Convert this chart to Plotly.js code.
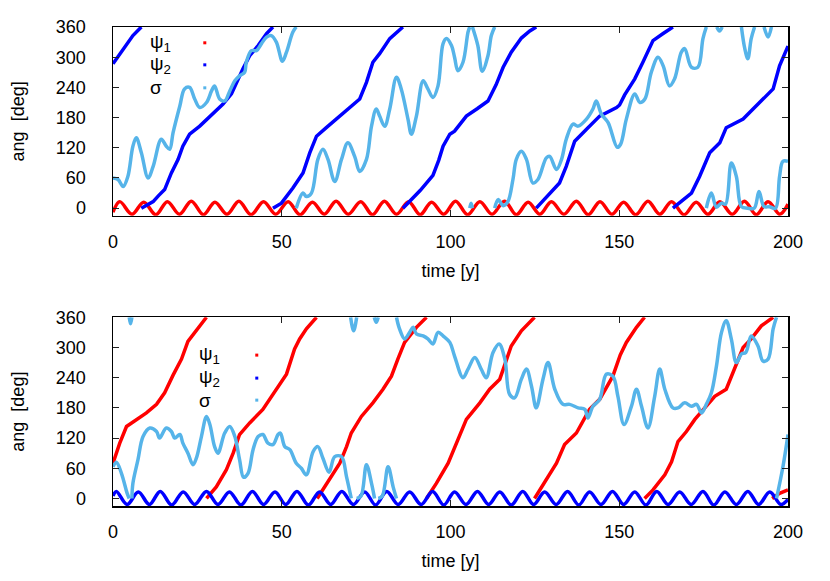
<!DOCTYPE html>
<html>
<head>
<meta charset="utf-8">
<script src="https://cdn.plot.ly/plotly-3.0.1.min.js"></script>
<style>html,body{margin:0;padding:0;background:#fff}#chart{width:830px;height:581px}</style>
</head>
<body>
<div id="chart"></div>
<script>
// ---------- TOP PANEL ----------
// psi1 (red, librating)
const topPsi1T = [0,2.0,5.6,9.1,12.7,16.1,19.7,23.2,26.8,30.2,33.8,37.3,40.9,44.6,48.2,51.9,55.4,59.1,62.6,66.1,69.7,73.4,76.9,80.4,84.0,87.6,91.0,94.4,98.0,101.5,105.1,108.7,112.3,116.0,119.5,123.0,126.5,129.9,133.6,137.3,140.8,144.3,147.8,151.3,154.9,158.5,162.0,165.5,169.2,172.8,176.3,179.8,183.5,187.1,190.6,194.1,197.6,200];
const topPsi1V = [-8,13,-12,12,-13,13,-12,14,-13,12,-12,14,-13,13,-12,13,-13,12,-12,14,-12,13,-13,14,-12,13,-13,12,-12,14,-13,13,-12,14,-13,12,-12,13,-12,14,-13,13,-12,12,-13,14,-12,13,-13,12,-12,13,-12,14,-13,13,-12,8];
// psi2 (blue, circulating; null = wrap)
const topPsi2T = [0,1,3,5.9,8.4,null,
  8.4,10,11.9,13.5,15.3,17.3,19.3,20.7,22.7,25.7,28.7,32.6,35.1,36.6,38.5,40.5,43,45.5,47.4,null,
  47.4,49.9,53.3,56.3,58.3,60.3,63.2,66.7,70.1,73.1,75.1,77,79,82,85.9,null,
  85.9,88,91,94.8,96.5,97.8,99.8,101.2,104.7,108,111.1,113.5,115.6,118,121,123.5,125.4,null,
  125.4,129,132.3,134.3,136.8,140.3,144.2,149.2,150.1,151.6,154.6,157,160,163,165.9,null,
  165.9,168.5,171.4,173.8,176.8,179.8,181.7,186.7,189.6,193.6,195.6,197.5,199.5,200];
const topPsi2V = [287,297,316,343,360,null,
  0,6,13,25,37,70,97,123,147,163,183,207,227,250,277,303,323,347,360,null,
  0,10,40,70,110,143,160,180,200,217,250,290,307,337,360,null,
  0,15,35,65,95,123,147,153,183,198,213,245,280,310,338,352,360,null,
  0,25,50,83,133,157,183,200,205,225,257,290,333,347,360,null,
  0,15,30,63,110,130,160,177,197,223,237,283,317,322];
// sigma (light blue)
const topSigT = [0,1.5,3,4.4,5.9,6.9,8.4,10.4,11.9,14.3,15.8,16.8,17.8,19.8,21.2,22.7,24.2,25.7,27.7,29.2,30.1,31.6,33.1,34.6,36.1,37.5,39,39.5,41,42.5,44,45.5,46.9,48.4,50.2,51.4,53.3,54.3,null,
  54.3,56.3,57.3,58.8,60.7,62.2,63.7,65.7,67.7,69.6,71.6,73.1,75.1,76.6,78,79,80.5,82,84,85.4,87.4,88.4,89.9,91.9,93.3,94.8,96.3,97.8,98.8,100.3,101.2,102.2,103.7,105.2,105.7,null,
  105.7,106.1,106.5,null,
  106.5,108.1,109.4,111.1,112.1,113.1,null,
  113.1,114.1,115.6,117,118.5,119.5,121,122.5,124.4,125.9,128.4,129.4,131.4,132.9,134.3,136.3,137.8,140.3,142.2,143.2,144.7,146.7,149.4,150.4,152.1,154.6,156.1,157.6,159.5,161.5,163,164.9,166.4,168.4,169.4,171.4,173.3,174.8,175.8,null,
  175.8,177.3,178.8,180.3,181.5,183.2,184.7,186.2,188,190,191.4,192.9,194.5,196.3,197.5,198.5,200,null,
  178.9,179.7,180.5,null,
  186.2,187.2,188.1,189.1,190.1,null,
  192.9,194.1,195.1];
const topSigV = [60,57,43,63,123,140,110,60,83,137,123,117,150,203,237,240,217,200,210,233,243,217,213,233,253,263,270,290,313,313,327,340,343,330,292,310,350,360,null,
  0,30,23,30,97,117,97,53,97,130,103,73,97,163,197,183,163,197,260,237,177,147,183,253,237,220,243,327,337,323,300,273,290,350,360,null,
  0,10,0,null,
  360,323,272,303,343,360,null,
  0,17,5,13,57,97,113,97,50,57,100,103,77,97,137,167,163,177,197,213,187,170,121,127,177,227,210,217,270,300,283,243,257,310,317,280,280,337,360,null,
  0,30,2,10,8,90,63,3,0,0,33,3,3,0,63,93,93,null,
  360,352,360,null,
  360,317,297,337,360,null,
  360,340,360];

// ---------- BOTTOM PANEL ----------
// psi1 (red, circulating)
const botPsi1T = [0,2,4,6.9,9.9,12.9,15.3,17.8,20.3,22.2,24.7,27.7,null,
  27.7,30.6,33.6,35.6,37.5,40.5,44.4,47.4,49.4,51.4,53.8,55.3,57.3,60.3,null,
  60.5,64.2,67.2,69.2,70.6,73.6,77,80,82.5,84.4,86.4,89.9,92.9,null,
  92.9,95.8,99.3,101.7,104.7,108.7,111.6,114.6,116.6,118,121,124.9,null,
  124.9,128.4,131.4,133.8,137.3,141.2,144.2,148.1,150.3,152.1,155.1,157.5,null,
  157.5,160,163.5,165.5,167.4,169.9,172.4,175.3,178.3,181.7,184.2,186.7,189.1,192.1,195.6,null,
  195.3,197.5,200];
const botPsi1V = [70,110,143,157,170,187,210,245,277,312,333,360,null,
  0,23,57,90,127,150,177,207,225,247,297,317,337,360,null,
  0,37,70,103,130,163,190,217,243,277,310,340,360,null,
  0,30,70,110,157,190,217,237,277,303,333,360,null,
  0,37,70,107,130,177,197,243,285,310,340,360,null,
  0,17,47,73,113,133,157,180,203,217,260,300,317,343,360,null,
  0,10,17];
// psi2 (blue, librating)
const botPsi2T = [0,1.0,4.2,7.5,10.8,14.0,17.4,20.8,24.2,27.7,31.1,34.5,37.9,41.3,44.6,48.0,51.2,54.5,57.9,61.2,64.5,67.8,71.2,74.6,77.8,81.1,84.5,87.9,91.3,94.7,98.0,101.2,104.6,108.0,111.3,114.6,118.0,121.4,124.6,127.9,131.3,134.7,138.0,141.2,144.6,148.0,151.3,154.6,157.9,161.1,164.5,167.9,171.3,174.8,178.0,181.3,184.7,188.1,191.3,194.6,197.9,200];
const botPsi2V = [5,14,-12,13,-12,14,-13,13,-12,14,-12,13,-13,14,-12,13,-12,14,-13,13,-12,14,-12,13,-13,14,-12,13,-12,14,-13,13,-12,14,-12,13,-13,14,-12,13,-12,14,-13,13,-12,14,-12,13,-13,14,-12,13,-12,14,-13,13,-12,14,-12,13,-12,-2];
// sigma (light blue)
const botSigT = [0,1,2.5,4.2,4.8,null,
  4.8,5.2,5.6,null,
  5.6,5.9,7.4,8.9,10.9,12.9,13.8,15.8,17.3,18.3,19.8,20.7,22.2,23.7,24.7,26.2,27.7,28.7,30.1,31.1,33.1,34.6,36.1,37.5,38.7,40,41.5,43,44.4,45.9,47.4,48.9,49.6,50.9,52.4,54.3,55.8,57.3,59.3,60.7,62.2,64,65.7,67.7,69.2,70.6,null,
  70.4,71.3,72.2,null,
  72.2,73.5,75.1,76.6,77.5,null,
  77.4,78,78.6,null,
  78.6,79.8,81.5,83,84,null,
  84,84.9,86.4,87.9,88.9,89.9,91.9,93.3,94.8,96.3,97.8,99.8,101.2,103.7,105.2,107.2,109.1,110.6,112.6,114.4,116.1,117.5,119,121,122.5,124,125.4,127.4,128.9,130.9,133.3,135.3,137.8,139.8,140.7,142.2,144.2,146.2,148.1,149.6,151.4,153.6,155.1,156.6,158.5,160.5,162,163.5,165.9,167.4,169.4,171.4,172.9,174.4,175.8,177.3,178.8,180.3,181.7,183.2,184.7,186.2,187.5,189.1,191.1,192.6,194.1,195.6,196.6,null,
  196.6,198.5,200];
const botSigV = [63,72,50,10,0,null,
  360,347,360,null,
  0,30,77,123,140,133,120,140,133,120,127,110,90,67,80,123,163,147,103,90,130,143,123,77,42,50,97,123,127,110,107,127,130,103,97,70,60,47,93,103,80,52,83,83,43,0,null,
  360,333,360,null,
  0,5,67,30,0,null,
  360,350,360,null,
  0,5,63,23,0,null,
  360,337,317,330,340,327,323,317,307,330,323,310,283,240,257,280,257,240,290,307,277,207,200,237,257,223,180,237,270,217,187,187,180,177,160,183,197,247,243,203,147,183,217,183,140,203,257,217,180,180,190,183,187,170,187,210,263,330,353,317,270,287,290,323,303,273,277,337,360,null,
  0,63,127];

// ---------- labels ----------
const seriesNames = ['ψ<sub>1</sub>', 'ψ<sub>2</sub>', 'σ'];
const seriesColors = ['#ff0000', '#0000ff', '#56b4e9'];
const xTicks = [0, 50, 100, 150, 200];
const yTicks = [0, 60, 120, 180, 240, 300, 360];

const FONT = 'Liberation Sans, Arial, Helvetica, sans-serif';
const FS = 18;

function tr(x, y, ci, xa, ya, smooth) {
  return {
    x: x, y: y, xaxis: xa, yaxis: ya, type: 'scatter', mode: 'lines',
    name: seriesNames[ci].replace(/<\/?sub>/g, ''),
    line: {color: seriesColors[ci], width: 3.5, shape: smooth ? 'spline' : 'linear', smoothing: 1},
    connectgaps: false, showlegend: false, hoverinfo: 'skip'
  };
}

const data = [
  tr(topPsi1T, topPsi1V, 0, 'x', 'y', true),
  tr(topPsi2T, topPsi2V, 1, 'x', 'y', false),
  tr(topSigT, topSigV, 2, 'x', 'y', true),
  tr(botPsi1T, botPsi1V, 0, 'x2', 'y2', false),
  tr(botPsi2T, botPsi2V, 1, 'x2', 'y2', true),
  tr(botSigT, botSigV, 2, 'x2', 'y2', true)
];

function xax(anchor) {
  return {
    domain: [0, 1], anchor: anchor, range: [0, 200], tickvals: xTicks,
    ticks: 'inside', ticklen: 6, tickwidth: 1, tickcolor: '#222',
    showline: true, linecolor: '#000', linewidth: 1.5, mirror: 'ticks',
    showgrid: false, zeroline: false, fixedrange: true,
    tickfont: {family: FONT, size: FS, color: '#000'},
    ticklabelstandoff: 9,
    title: {text: 'time [y]', font: {family: FONT, size: FS, color: '#000'}, standoff: 13}
  };
}
function yax(domain, anchor) {
  return {
    domain: domain, anchor: anchor, range: [-15, 360], tickvals: yTicks,
    ticks: 'inside', ticklen: 6, tickwidth: 1, tickcolor: '#222',
    showline: true, linecolor: '#000', linewidth: 1.5, mirror: 'ticks',
    showgrid: false, zeroline: false, fixedrange: true,
    tickfont: {family: FONT, size: FS, color: '#000'},
    ticklabelstandoff: 22,
    title: {text: 'ang\u00a0 [deg]', font: {family: FONT, size: FS, color: '#000'}, standoff: 26}
  };
}

// legend (gnuplot style: text left, sample dot right)
const legTop = {xt: 0.052, xd: 0.136, ys: [0.967, 0.921, 0.873]};
const legBot = {xt: 0.124, xd: 0.213, ys: [0.315, 0.267, 0.221]};
const annotations = [];
const shapes = [];
[legTop, legBot].forEach(L => {
  L.ys.forEach((yy, i) => {
    annotations.push({xref: 'paper', yref: 'paper', x: L.xt, y: yy, xanchor: 'left', yanchor: 'middle',
      text: seriesNames[i], showarrow: false, font: {family: FONT, size: 19, color: '#000'}});
    shapes.push({type: 'rect', xref: 'paper', yref: 'paper', xsizemode: 'pixel', ysizemode: 'pixel',
      xanchor: L.xd, yanchor: yy, x0: -1.5, x1: 1.5, y0: -1.5, y1: 1.5,
      fillcolor: seriesColors[i], line: {width: 0}});
  });
});

const layout = {
  width: 830, height: 581,
  margin: {l: 113, r: 42, t: 27, b: 75},
  paper_bgcolor: '#fff', plot_bgcolor: '#fff',
  showlegend: false,
  font: {family: FONT, size: FS, color: '#000'},
  xaxis: xax('y'),
  yaxis: yax([0.606, 1], 'x'),
  xaxis2: xax('y2'),
  yaxis2: yax([0, 0.394], 'x2'),
  annotations: annotations,
  shapes: shapes
};

Plotly.newPlot('chart', data, layout, {staticPlot: true, displayModeBar: false});
</script>
</body>
</html>
